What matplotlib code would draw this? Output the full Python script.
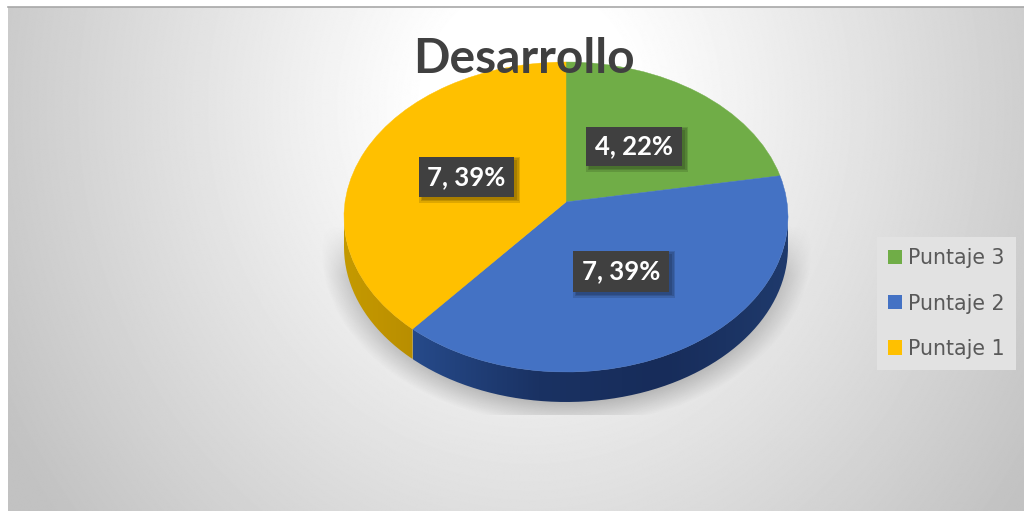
import numpy as np
import matplotlib
matplotlib.use('Agg')
import matplotlib.pyplot as plt
from matplotlib.path import Path
from matplotlib.patches import PathPatch, Patch, Rectangle

title = 'Desarrollo'
categories = ['Puntaje 3', 'Puntaje 2', 'Puntaje 1']
values = [4, 7, 7]
percents = [22, 39, 39]
colors = ['#70ad47', '#4472c4', '#ffc000']

W, H = 1024, 511
# pie ellipse in pixels and how far the apex sits above the ellipse centre (perspective)
cx, cy, rx, ry = 566, 217, 222, 155
k = 0.097
depth = 30


def project(xy):
    x, y = xy[:, 0], xy[:, 1]
    d = 1 + k * y
    return np.column_stack([cx + rx * x * np.sqrt(1 - k * k) / d, cy - ry * (y + k) / d])


fig = plt.figure(figsize=(W / 100, H / 100), dpi=100)
ax = fig.add_axes([0, 0, 1, 1])

wedges, _ = ax.pie(values, colors=colors, startangle=90, counterclock=False)
ax.set_aspect('auto')
ax.axis('off')

# background gradient
yy, xx = np.mgrid[0:H, 0:W]
dist = np.sqrt(((xx - 525) / 500.0) ** 2 + ((yy - 100) / 560.0) ** 2)
bg = np.clip(1.05 - 0.24 * dist, 0.76, 1.0)
ax.imshow(bg, cmap='gray', vmin=0, vmax=1, extent=(8, W, H, 7), zorder=0, aspect='auto')
ax.plot([8, W], [7.5, 7.5], color='#a8a8a8', lw=1.2, zorder=1)

# soft shadow under the pie, cut off flat at the bottom
u = (xx - cx) / 238.0
v = (yy - 250) / 170.0
r = np.sqrt(u ** 2 + v ** 2)
alpha = np.clip((1.03 - r) / 0.14, 0, 1) * 0.36
alpha *= np.clip((yy - 225) / 50.0, 0, 1)
alpha[yy > 414] = 0
shadow = np.zeros((H, W, 4))
shadow[..., :3] = 0.35
shadow[..., 3] = alpha
ax.imshow(shadow, extent=(0, W, H, 0), zorder=1.5, aspect='auto')

# side walls, then flat faces on top
wall_stops = {1: ['#264a8a', '#1a3263', '#172c5a', '#1f3a6c'], 2: ['#c49a00', '#c09400', '#b88e00']}
for i, wedge in enumerate(wedges):
    patch_path = wedge.get_path()
    face = Path(project(patch_path.vertices), patch_path.codes)
    ax.add_patch(PathPatch(face, facecolor=colors[i], edgecolor=colors[i], lw=0.3, zorder=3))
    wedge.remove()
    if i in wall_stops:
        t = np.radians(np.linspace(wedge.theta1, wedge.theta2, 200))
        top = project(np.column_stack([np.cos(t), np.sin(t)]))
        top = top[top[:, 1] > cy]
        top = top[np.argsort(top[:, 0])]
        low = top + [0, depth]
        wall = np.vstack([top, low[::-1]])
        clip = PathPatch(Path(wall), facecolor='none', edgecolor='none', transform=ax.transData)
        ax.add_patch(clip)
        ramp = matplotlib.colors.LinearSegmentedColormap.from_list('w%d' % i, wall_stops[i])
        im = ax.imshow(np.linspace(0, 1, 256)[None, :], cmap=ramp, zorder=2, aspect='auto',
                       extent=(wall[:, 0].min(), wall[:, 0].max(), wall[:, 1].max(), wall[:, 1].min()))
        im.set_clip_path(clip)
ax.set_xlim(0, W)
ax.set_ylim(H, 0)

ax.text(523.5, 59, title, fontsize=34.5, fontweight='bold', family='Lato', color='#404040',
        ha='center', va='center', zorder=6)

# data labels
boxes = [(586, 127, 96, 39), (573, 251, 96, 41), (419, 157, 95, 40)]
for val, pct, (bx, by, bw, bh) in zip(values, percents, boxes):
    for grow in (3, 1.5, 0):
        ax.add_patch(Rectangle((bx + 3 - grow, by + 3 - grow), bw + 2 * grow, bh + 2 * grow,
                               facecolor='#000000', alpha=0.13, lw=0, zorder=4))
    ax.add_patch(Rectangle((bx, by), bw, bh, facecolor='#404040', lw=0, zorder=5))
    ax.text(bx + bw / 2, by + bh / 2, '%d, %d%%' % (val, pct), color='white', fontsize=18.5,
            fontweight='bold', family='Lato', ha='center', va='center', zorder=6)

# legend
handles = [Patch(facecolor=c, edgecolor='none') for c in colors]
leg = ax.legend(handles, categories, loc='center', bbox_to_anchor=(946.5, 303.5), bbox_transform=ax.transData,
                frameon=True, facecolor='#e2e2e2', edgecolor='none', framealpha=1, fancybox=False,
                fontsize=14.8, labelcolor='#595959', handlelength=0.7, handleheight=0.7, handletextpad=0.3,
                labelspacing=1.22, borderpad=0.55, borderaxespad=0)
leg.set_zorder(6)
for t in leg.get_texts():
    t.set_family('DejaVu Sans')

fig.savefig('out.png', dpi=100, facecolor='white')
